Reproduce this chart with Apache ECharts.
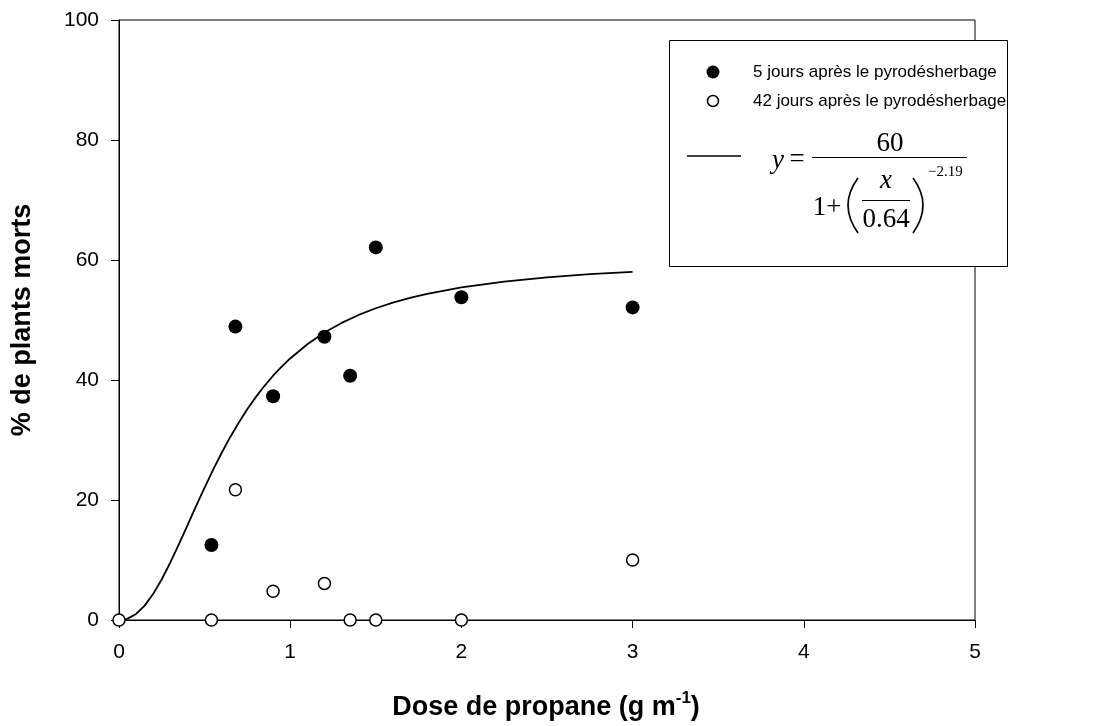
<!DOCTYPE html>
<html>
<head>
<meta charset="utf-8">
<script src="https://cdn.jsdelivr.net/npm/echarts@6/dist/echarts.min.js"></script>
<style>
html,body{margin:0;padding:0;background:#fff;}
#chart{width:1116px;height:726px;}
</style>
</head>
<body>
<div id="chart"></div>
<script>
// ---- data ----
const doseX = [0.54, 0.68, 0.9, 1.2, 1.35, 1.5, 2, 3];
const day5 = [12.5, 48.9, 37.3, 47.2, 40.7, 62.1, 53.8, 52.1];
const day42X = [0, 0.54, 0.68, 0.9, 1.2, 1.35, 1.5, 2, 3];
const day42 = [0, 0, 21.7, 4.8, 6.1, 0, 0, 0, 10.0];
// fitted curve y = 60 / (1 + (x/0.64)^-2.19), sampled as drawn
const curveX = [0,0.05,0.1,0.15,0.2,0.25,0.3,0.35,0.4,0.45,0.5,0.55,0.6,0.65,0.7,0.75,0.8,0.85,0.9,0.95,1.0,1.1,1.2,1.3,1.4,1.5,1.6,1.7,1.8,2.0,2.25,2.5,2.75,3.0];
const curveY = [0,0.23,1.01,2.40,4.36,6.79,9.59,12.63,15.79,18.97,22.08,25.07,27.88,30.51,32.93,35.16,37.19,39.03,40.71,42.22,43.59,45.96,47.91,49.51,50.84,51.96,52.89,53.68,54.35,55.43,56.41,57.11,57.63,58.03];
const xTickLabels = ['0','1','2','3','4','5'];
const yTickLabels = ['0','20','40','60','80','100'];
const legendLabels = ['5 jours après le pyrodésherbage', '42 jours après le pyrodésherbage'];
const xTitle = 'Dose de propane (g m';
const xTitleSup = '-1';
const yTitle = '% de plants morts';

const SANS = '"Liberation Sans", Arial, Helvetica, sans-serif';
const SERIF = '"Liberation Serif", "Times New Roman", serif';

const zip = (a, b) => a.map((v, i) => [v, b[i]]);

const chart = echarts.init(document.getElementById('chart'), null, {renderer: 'canvas'});

const axisCommon = {
  axisLine: {show: true, onZero: false, lineStyle: {color: '#000', width: 1}},
  axisTick: {show: true, inside: false, length: 8, lineStyle: {color: '#000', width: 1}},
  splitLine: {show: false},
  axisLabel: {color: '#000', fontSize: 21, fontFamily: SANS}
};

const sw = 1.7;
const formula = [
  {type: 'text', x: 778, y: 161, style: {text: 'y', font: 'italic 27px ' + SERIF, fill: '#000', align: 'center', verticalAlign: 'middle'}},
  {type: 'text', x: 797, y: 160, style: {text: '=', font: '27px ' + SERIF, fill: '#000', align: 'center', verticalAlign: 'middle'}},
  {type: 'text', x: 890, y: 144, style: {text: '60', font: '27px ' + SERIF, fill: '#000', align: 'center', verticalAlign: 'middle'}},
  {type: 'line', shape: {x1: 812, y1: 157.5, x2: 967, y2: 157.5}, style: {stroke: '#000', lineWidth: 1.2}},
  {type: 'text', x: 827, y: 208, style: {text: '1+', font: '27px ' + SERIF, fill: '#000', align: 'center', verticalAlign: 'middle'}},
  {type: 'bezierCurve', shape: {x1: 858, y1: 178, cpx1: 838, cpy1: 205, x2: 858, y2: 233}, style: {stroke: '#000', lineWidth: sw, fill: null}},
  {type: 'text', x: 886, y: 181, style: {text: 'x', font: 'italic 27px ' + SERIF, fill: '#000', align: 'center', verticalAlign: 'middle'}},
  {type: 'line', shape: {x1: 862, y1: 200.5, x2: 910, y2: 200.5}, style: {stroke: '#000', lineWidth: 1.2}},
  {type: 'text', x: 886, y: 220, style: {text: '0.64', font: '27px ' + SERIF, fill: '#000', align: 'center', verticalAlign: 'middle'}},
  {type: 'bezierCurve', shape: {x1: 913, y1: 178, cpx1: 933, cpy1: 205, x2: 913, y2: 233}, style: {stroke: '#000', lineWidth: sw, fill: null}},
  {type: 'text', x: 928, y: 172, style: {text: '\u22122.19', font: '15px ' + SERIF, fill: '#000', align: 'left', verticalAlign: 'middle'}}
];

chart.setOption({
  animation: false,
  backgroundColor: '#fff',
  grid: {left: 119, right: 141, top: 20, bottom: 106, show: true, borderColor: '#000', borderWidth: 1, backgroundColor: 'transparent'},
  xAxis: Object.assign({}, axisCommon, {
    type: 'value', min: 0, max: 5, interval: 1,
    axisLabel: Object.assign({}, axisCommon.axisLabel, {margin: 22, formatter: v => xTickLabels[Math.round(v)]})
  }),
  yAxis: Object.assign({}, axisCommon, {
    type: 'value', min: 0, max: 100, interval: 20,
    axisLabel: Object.assign({}, axisCommon.axisLabel, {margin: 20, formatter: v => yTickLabels[Math.round(v / 20)]})
  }),
  series: [
    {
      name: 'fit', type: 'line', data: zip(curveX, curveY), showSymbol: false, symbol: 'none',
      smooth: false, lineStyle: {color: '#000', width: 1.8}, z: 2, clip: false
    },
    {
      name: legendLabels[0], type: 'scatter', data: zip(doseX, day5), symbol: 'circle', symbolSize: 14,
      itemStyle: {color: '#000', opacity: 1}, z: 3, clip: false
    },
    {
      name: legendLabels[1], type: 'scatter', data: zip(day42X, day42), symbol: 'circle', symbolSize: 12,
      itemStyle: {color: '#fff', borderColor: '#000', borderWidth: 1.5, opacity: 1}, z: 4, clip: false
    }
  ],
  graphic: [
    {type: 'text', x: 546, y: 708, z: 10, style: {
      text: '{m|' + xTitle + '}{sup|' + xTitleSup + '}{m|)}',
      font: 'bold 27px ' + SANS, fill: '#000', align: 'center', verticalAlign: 'middle',
      rich: {
        m: {font: 'bold 27px ' + SANS, fill: '#000', lineHeight: 36, verticalAlign: 'middle'},
        sup: {font: 'bold 17px ' + SANS, fill: '#000', verticalAlign: 'top', lineHeight: 12}
      }
    }},
    {type: 'text', x: 23, y: 320, rotation: Math.PI / 2, z: 10, style: {
      text: yTitle, font: 'bold 27px ' + SANS, fill: '#000', align: 'center', verticalAlign: 'middle'
    }},
    {type: 'group', z: 20, children: [
      {type: 'rect', shape: {x: 669.5, y: 40.5, width: 338, height: 226}, style: {fill: '#fff', stroke: '#000', lineWidth: 1}},
      {type: 'circle', shape: {cx: 713, cy: 72, r: 6.5}, style: {fill: '#000'}},
      {type: 'circle', shape: {cx: 713, cy: 101, r: 5.5}, style: {fill: '#fff', stroke: '#000', lineWidth: 1.5}},
      {type: 'text', x: 753, y: 72, style: {text: legendLabels[0], font: '17px ' + SANS, fill: '#000', align: 'left', verticalAlign: 'middle'}},
      {type: 'text', x: 753, y: 101, style: {text: legendLabels[1], font: '17px ' + SANS, fill: '#000', align: 'left', verticalAlign: 'middle'}},
      {type: 'line', shape: {x1: 687, y1: 156, x2: 741, y2: 156}, style: {stroke: '#000', lineWidth: 1.5}}
    ].concat(formula)}
  ]
});
</script>
</body>
</html>
